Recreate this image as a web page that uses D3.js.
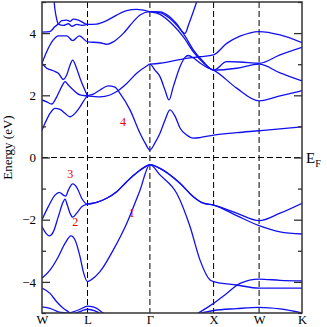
<!DOCTYPE html>
<html>
<head>
<meta charset="utf-8">
<script src="https://cdn.jsdelivr.net/npm/d3@7"></script>
<style>
  body { margin: 0; background: #fff; }
  svg text { font-family: "Liberation Serif", "DejaVu Serif", serif; }
</style>
</head>
<body>
<svg id="chart" width="327" height="327"></svg>
<script>
// High-symmetry points along the k path
const kLabels = ['W', 'L', 'Γ', 'X', 'W', 'K'];
const kTicks = [0, 0.70, 1.66, 2.64, 3.34, 4.0];

const yMajor = [-4, -2, 0, 2, 4];
const yMinor = [-5, -3, -1, 1, 3, 5];

// Bands as [k, energy in eV]
const valence1 = [[0,-3.88],[0.123,-3.62],[0.251,-3.19],[0.354,-2.76],[0.446,-2.52],[0.508,-2.65],[0.585,-3.19],[0.635,-3.67],[0.70,-3.99],[0.765,-3.92],[0.892,-3.67],[1.097,-2.97],[1.303,-2.12],[1.508,-1.05],[1.66,-0.23],[1.815,-0.56],[2.072,-1.15],[2.277,-2.22],[2.431,-3.3],[2.585,-3.94],[2.64,-3.99],[2.995,-4.1],[3.34,-4.2],[4.0,-4.2]];
const valence2 = [[0,-2.22],[0.062,-2.44],[0.112,-2.52],[0.174,-2.39],[0.251,-1.9],[0.328,-1.42],[0.354,-1.34],[0.389,-1.53],[0.431,-1.79],[0.472,-1.92],[0.534,-1.79],[0.611,-1.58],[0.70,-1.5],[0.842,-1.44],[0.995,-1.31],[1.149,-1.1],[1.303,-0.78],[1.457,-0.49],[1.585,-0.3],[1.66,-0.23],[1.815,-0.35],[2.123,-0.83],[2.328,-1.26],[2.482,-1.47],[2.64,-1.53],[2.995,-1.87],[3.34,-2.19],[3.662,-2.39],[4.0,-2.46]];
const valence3 = [[0,-2.0],[0.097,-1.58],[0.2,-1.21],[0.266,-1.12],[0.328,-1.21],[0.365,-1.24],[0.405,-1.05],[0.472,-0.85],[0.543,-0.99],[0.611,-1.31],[0.70,-1.5],[0.842,-1.44],[0.995,-1.31],[1.149,-1.1],[1.303,-0.78],[1.457,-0.49],[1.585,-0.3],[1.66,-0.23],[1.815,-0.35],[2.123,-0.83],[2.328,-1.26],[2.482,-1.47],[2.64,-1.53],[2.995,-1.79],[3.34,-2.03],[3.662,-1.79],[4.0,-1.47]];
const deep1 = [[0,-4.2],[0.123,-4.37],[0.226,-4.64],[0.328,-4.85],[0.405,-4.96],[0.462,-5.05]];
const deep2 = [[0,-4.8],[0.123,-4.85],[0.251,-4.96],[0.38,-5.0],[0.5,-5.03]];
const deep3 = [[0.36,-5.05],[0.585,-4.88],[0.70,-4.78],[0.738,-4.79],[0.842,-4.85],[0.943,-5.0],[1.0,-5.05]];
const deep4 = [[0.45,-5.05],[0.615,-4.93],[0.70,-4.88],[0.815,-4.93],[0.92,-5.05]];
const deep5 = [[2.389,-5.02],[2.64,-4.69],[2.842,-4.37],[3.046,-4.05],[3.34,-3.91],[3.662,-3.95],[4.0,-3.97]];
const deep6 = [[2.42,-5.02],[2.64,-4.92],[2.995,-4.86],[3.34,-4.82],[3.662,-4.87],[4.0,-5.0]];

const cond4 = [[0,0.88],[0.046,1.10],[0.123,1.42],[0.2,1.58],[0.277,1.55],[0.354,1.42],[0.431,1.31],[0.508,1.42],[0.585,1.63],[0.70,1.98],[0.789,2.04],[0.892,2.17],[1.02,2.30],[1.123,2.26],[1.2,2.06],[1.354,1.53],[1.508,0.78],[1.585,0.47],[1.66,0.24],[1.738,0.47],[1.815,0.78],[1.892,1.2],[1.969,1.53],[2.046,1.33],[2.123,0.95],[2.226,0.72],[2.328,0.62],[2.431,0.64],[2.64,0.72],[2.995,0.8],[3.34,0.86],[3.662,0.92],[4.0,0.99]];
const cond5 = [[0,1.85],[0.072,1.79],[0.149,1.72],[0.226,1.95],[0.303,2.28],[0.354,2.44],[0.405,2.33],[0.482,2.17],[0.585,2.01],[0.70,1.98],[0.892,1.95],[1.046,2.01],[1.149,2.12],[1.303,2.38],[1.457,2.71],[1.611,2.94],[1.66,3.0],[1.738,2.81],[1.815,2.6],[1.892,2.17],[1.954,1.85],[2.02,2.28],[2.123,2.92],[2.2,3.22],[2.25,3.28],[2.33,3.2],[2.43,3.04],[2.54,2.9],[2.64,2.81],[2.995,2.23],[3.34,1.82],[3.662,1.98],[4.0,2.15]];
const cond6 = [[0,3.03],[0.072,2.87],[0.174,2.79],[0.251,2.71],[0.328,2.51],[0.38,2.65],[0.431,2.97],[0.472,3.13],[0.523,2.92],[0.585,2.55],[0.70,1.98]];
const cond7 = [[1.66,3.0],[1.815,3.03],[2.226,3.19],[2.431,3.24],[2.64,3.3],[2.842,3.67],[3.046,3.9],[3.34,4.05],[3.662,3.94],[4.0,3.69]];
const cond8 = [[0,3.03],[0.072,3.4],[0.174,3.78],[0.251,3.91],[0.38,3.91],[0.472,3.76],[0.574,3.91],[0.70,3.72],[0.892,3.69],[0.995,3.64],[1.097,3.72],[1.251,3.99],[1.405,4.37],[1.508,4.58],[1.66,4.69],[1.815,4.66],[2.02,4.37],[2.174,3.99],[2.328,3.46],[2.482,3.08],[2.64,2.81],[2.842,3.08],[3.046,3.07],[3.34,3.03],[3.662,3.3],[4.0,3.54]];
const cond9 = [[0,4.03],[0.123,4.05],[0.2,4.21],[0.251,4.29],[0.303,4.40],[0.38,4.42],[0.431,4.38],[0.482,4.45],[0.56,4.42],[0.70,4.28],[0.842,4.29],[0.995,4.40],[1.149,4.58],[1.303,4.72],[1.457,4.76],[1.66,4.69],[1.815,4.6],[2.02,4.25],[2.174,3.88],[2.328,3.4],[2.482,3.05],[2.64,2.81],[2.995,2.87],[3.34,3.0],[3.662,2.72],[4.0,2.46]];
const cond10 = [[0.185,5.05],[0.2,4.75],[0.226,4.45],[0.251,4.29],[0.328,4.25],[0.405,4.3],[0.46,4.22],[0.534,4.28],[0.611,4.25],[0.70,4.28]];
const cond11 = [[1.66,4.69],[1.815,4.68],[1.95,4.55],[2.07,4.3],[2.2,3.99],[2.26,4.3],[2.33,4.7],[2.389,5.06]];

const bands = [valence1, valence2, valence3, deep1, deep2, deep3, deep4, deep5, deep6,
               cond4, cond5, cond6, cond7, cond8, cond9, cond10, cond11];

// Red band labels
const bandNames = ['1', '2', '3', '4'];
const bandNamePos = [[1.38, -1.9], [0.51, -2.2], [0.435, -0.65], [1.245, 1.0]];

const width = 327, height = 327;
const margin = { left: 42, right: 25, top: 2, bottom: 14 };

const svg = d3.select('#chart');

const x = d3.scaleLinear().domain([0, 4]).range([margin.left, width - margin.right]);
const y = d3.scaleLinear().domain([-5, 5]).range([height - margin.bottom, margin.top]);

svg.append('defs').append('clipPath').attr('id', 'plot')
    .append('rect')
    .attr('x', x(0)).attr('y', y(5))
    .attr('width', x(4) - x(0)).attr('height', y(-5) - y(5));

// Dashed guide lines
const guides = svg.append('g').attr('stroke', '#000').attr('stroke-width', 1)
    .attr('stroke-dasharray', '6,3');
guides.selectAll('line.v')
    .data(kTicks.slice(1, -1))
    .enter().append('line')
    .attr('x1', d => x(d)).attr('x2', d => x(d))
    .attr('y1', y(5)).attr('y2', y(-5));
guides.append('line')
    .attr('x1', x(0)).attr('x2', x(4))
    .attr('y1', y(0)).attr('y2', y(0));

// Bands
const line = d3.line()
    .x(d => x(d[0]))
    .y(d => y(d[1]))
    .curve(d3.curveMonotoneX);

svg.append('g')
    .attr('clip-path', 'url(#plot)')
    .selectAll('path')
    .data(bands)
    .enter().append('path')
    .attr('d', line)
    .attr('fill', 'none')
    .attr('stroke', '#1010f0')
    .attr('stroke-width', 1.3);

// Axes
svg.append('g').attr('transform', `translate(${x(0)},0)`)
    .call(d3.axisLeft(y).tickValues(yMajor).tickSize(-8).tickPadding(6).tickFormat(d3.format('d')));
svg.append('g').attr('transform', `translate(${x(0)},0)`)
    .call(d3.axisLeft(y).tickValues(yMinor).tickSize(-4).tickFormat(''));
svg.append('g').attr('transform', `translate(${x(4)},0)`)
    .call(d3.axisRight(y).tickValues(yMajor).tickSize(-8).tickFormat(''));
svg.append('g').attr('transform', `translate(${x(4)},0)`)
    .call(d3.axisRight(y).tickValues(yMinor).tickSize(-4).tickFormat(''));
const axisBottom = svg.append('g').attr('transform', `translate(0,${y(-5)})`)
    .call(d3.axisBottom(x).tickValues(kTicks).tickSize(0).tickPadding(2)
        .tickFormat((d, i) => kLabels[i]));

svg.selectAll('.domain').remove();
svg.selectAll('.tick line').attr('stroke', '#333').attr('stroke-width', 1.3);
svg.selectAll('.tick text').attr('font-size', 13).attr('fill', '#000')
    .style('font-family', '"Liberation Serif", serif');
axisBottom.selectAll('.tick text').attr('font-size', 12.5);

// Frame
svg.append('rect')
    .attr('x', x(0)).attr('y', y(5))
    .attr('width', x(4) - x(0)).attr('height', y(-5) - y(5))
    .attr('fill', 'none').attr('stroke', '#333').attr('stroke-width', 1.5);

// Axis title
svg.append('text')
    .attr('transform', `translate(12,${y(0) - 10}) rotate(-90)`)
    .attr('text-anchor', 'middle')
    .attr('font-size', 13)
    .text('Energy (eV)');

// Fermi level label
const ef = svg.append('text')
    .attr('x', x(4) + 4).attr('y', y(0) + 5)
    .attr('font-size', 15);
ef.append('tspan').text('E');
ef.append('tspan').attr('font-size', 10).attr('dy', 4).text('F');

// Band numbers
svg.append('g').selectAll('text')
    .data(bandNames)
    .enter().append('text')
    .attr('x', (d, i) => x(bandNamePos[i][0]))
    .attr('y', (d, i) => y(bandNamePos[i][1]))
    .attr('text-anchor', 'middle')
    .attr('font-size', 12)
    .attr('fill', '#e00000')
    .text(d => d);
</script>
</body>
</html>
